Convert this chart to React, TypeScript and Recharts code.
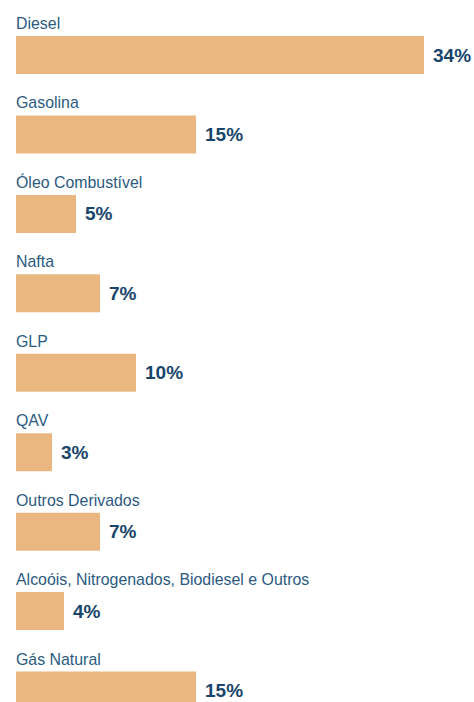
import React from 'react';
import { BarChart, Bar, XAxis, YAxis, LabelList } from 'recharts';

// categories and shares (%)
const categories = [
  'Diesel',
  'Gasolina',
  'Óleo Combustível',
  'Nafta',
  'GLP',
  'QAV',
  'Outros Derivados',
  'Alcoóis, Nitrogenados, Biodiesel e Outros',
  'Gás Natural'
];
const shares = [34, 15, 5, 7, 10, 3, 7, 4, 15];

const data = categories.map((name, i) => ({ name, value: shares[i] }));

const BAR_COLOR = '#EAB781';
const NAME_COLOR = '#2B5A80';
const VALUE_COLOR = '#17456B';
const FONT = '"Liberation Sans", Arial, sans-serif';

const NameLabel = (props: any) => {
  const { x, y, value } = props;
  return (
    <text x={x} y={y - 7} fill={NAME_COLOR} fontSize={15.9} fontFamily={FONT}>
      {value}
    </text>
  );
};

const ValueLabel = (props: any) => {
  const { x, y, width, height, value } = props;
  return (
    <text
      x={x + width + 9}
      y={y + height / 2}
      dominantBaseline="central"
      fill={VALUE_COLOR}
      fontSize={19}
      fontWeight="bold"
      fontFamily={FONT}
    >
      {`${value}%`}
    </text>
  );
};

const App: React.FC = () => {
  return (
    <div
      style={{
        position: 'fixed',
        top: 0,
        left: 0,
        width: 474,
        height: 702,
        overflow: 'hidden',
        background: '#fff'
      }}
    >
      <BarChart
        width={474}
        height={740}
        data={data}
        layout="vertical"
        margin={{ top: 15, right: 50, bottom: 10, left: 16 }}
      >
        <XAxis type="number" domain={[0, 34]} hide />
        <YAxis type="category" dataKey="name" hide />
        <Bar dataKey="value" fill={BAR_COLOR} barSize={38} isAnimationActive={false}>
          <LabelList dataKey="name" content={NameLabel} />
          <LabelList dataKey="value" content={ValueLabel} />
        </Bar>
      </BarChart>
    </div>
  );
};

export default App;
